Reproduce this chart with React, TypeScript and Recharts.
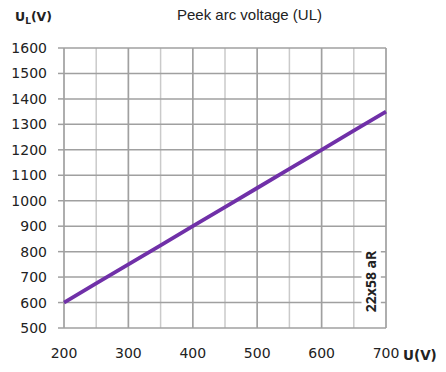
import React from "react";
import {
  LineChart,
  Line,
  XAxis,
  YAxis,
  CartesianGrid,
  ReferenceArea,
} from "recharts";

const uValues = [200, 250, 300, 350, 400, 450, 500, 550, 600, 650, 700];
const ulValues = [600, 675, 750, 825, 900, 975, 1050, 1125, 1200, 1275, 1350];
const xTicks = [200, 300, 400, 500, 600, 700];
const xGridTicks = [200, 250, 300, 350, 400, 450, 500, 550, 600, 650, 700];
const yTicks = [500, 600, 700, 800, 900, 1000, 1100, 1200, 1300, 1400, 1500, 1600];
const title = "Peek arc voltage (UL)";
const boxLabel = "22x58 aR";

const data = uValues.map((u, i) => ({ u, ul: ulValues[i] }));

const W = 430;
const H = 356;
const tickFont = { fontFamily: "DejaVu Sans", fontSize: 14, fill: "#222" };

export default function App() {
  return (
    <div style={{ position: "relative", width: W, height: H, background: "#fff" }}>
      <LineChart
        width={W}
        height={H}
        data={data}
        margin={{ top: 40, right: 52, left: 0, bottom: 6 }}
      >
        <XAxis
          xAxisId="grid"
          dataKey="u"
          type="number"
          domain={[200, 700]}
          ticks={xGridTicks}
          hide
        />
        <CartesianGrid
          xAxisId="grid"
          horizontal={false}
          stroke="#cacaca"
          strokeWidth={1.5}
        />
        <CartesianGrid stroke="#a0a0a0" strokeWidth={1.5} />
        <XAxis
          dataKey="u"
          type="number"
          domain={[200, 700]}
          ticks={xTicks}
          axisLine={false}
          tickLine={false}
          tickSize={0}
          tickMargin={20}
          height={30}
          tick={tickFont}
          interval={0}
        />
        <YAxis
          type="number"
          domain={[500, 1600]}
          ticks={yTicks}
          axisLine={false}
          tickLine={{ stroke: "#a0a0a0", strokeWidth: 1.5 }}
          tickSize={6}
          tickMargin={11}
          width={56}
          tick={tickFont}
          interval={0}
        />
        <ReferenceArea
          x1={662}
          x2={692}
          y1={548}
          y2={818}
          fill="#ffffff"
          fillOpacity={1}
          stroke="none"
          label={{
            value: boxLabel,
            angle: -90,
            position: "center",
            fontFamily: "Open Sans",
            fontWeight: 700,
            fontSize: 14,
            fill: "#222",
          }}
        />
        <Line
          type="linear"
          dataKey="ul"
          stroke="#7030a8"
          strokeWidth={3.8}
          dot={false}
          isAnimationActive={false}
        />
      </LineChart>
      <svg
        width={W}
        height={H}
        style={{
          position: "absolute",
          left: 0,
          top: 0,
          pointerEvents: "none",
          overflow: "visible",
        }}
      >
        <text
          x={241.5}
          y={12}
          textAnchor="middle"
          fontFamily="Liberation Sans, Arial"
          fontSize={15}
          fill="#222"
        >
          {title}
        </text>
        <text x={7} y={13} fontFamily="DejaVu Sans" fontWeight={700} fontSize={12.5} fill="#222">
          U
          <tspan fontSize={9} dy={3.3}>L</tspan>
          <tspan dy={-3.3}>(V)</tspan>
        </text>
        <text x={395} y={352} fontFamily="DejaVu Sans" fontWeight={700} fontSize={13.5} fill="#222">
          U(V)
        </text>
      </svg>
    </div>
  );
}
